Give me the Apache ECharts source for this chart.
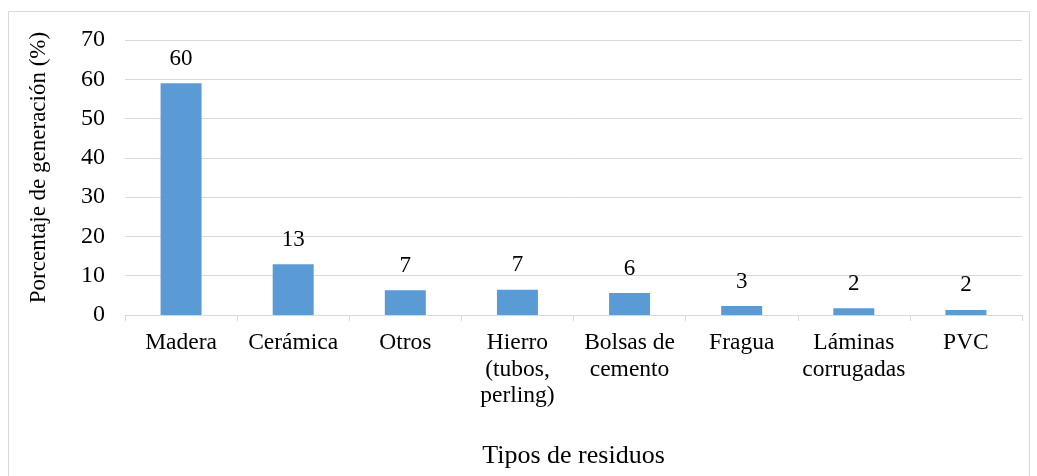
<!DOCTYPE html>
<html>
<head>
<meta charset="utf-8">
<script src="https://cdn.jsdelivr.net/npm/echarts@6/dist/echarts.min.js"></script>
<style>
  html, body { margin: 0; padding: 0; background: #fff; }
  #main { width: 1037px; height: 476px; }
</style>
</head>
<body>
<div id="main"></div>
<script>
// datos del gráfico
var categorias = ['Madera', 'Cerámica', 'Otros', 'Hierro\n(tubos,\nperling)', 'Bolsas de\ncemento', 'Fragua', 'Láminas\ncorrugadas', 'PVC'];
var valores = [59.0, 12.9, 6.3, 6.4, 5.6, 2.3, 1.7, 1.3];
var etiquetas = ['60', '13', '7', '7', '6', '3', '2', '2'];

var fuente = '"Liberation Serif", "Times New Roman", serif';
var myChart = echarts.init(document.getElementById('main'));

option = {
	backgroundColor: '#fff',
	textStyle: { fontFamily: fuente, color: '#000' },
	graphic: [{
		type: 'rect',
		shape: { x: 8.5, y: 11.5, width: 1021, height: 470 },
		style: { fill: 'none', stroke: '#d9d9d9', lineWidth: 1 },
		silent: true
	}],
	grid: { left: 125, right: 15, top: 40, bottom: 161 },
	xAxis: {
		type: 'category',
		data: categorias,
		name: 'Tipos de residuos',
		nameLocation: 'middle',
		nameGap: 128,
		nameTextStyle: { fontFamily: fuente, fontSize: 26, color: '#000' },
		axisLine: { lineStyle: { color: '#d9d9d9', width: 1 } },
		axisTick: { show: true, length: 6, lineStyle: { color: '#d9d9d9' } },
		axisLabel: {
			interval: 0,
			margin: 15,
			fontFamily: fuente,
			fontSize: 23.5,
			lineHeight: 26.5,
			color: '#000',
			align: 'center'
		}
	},
	yAxis: {
		type: 'value',
		min: 0,
		max: 70,
		interval: 10,
		name: 'Porcentaje de generación (%)',
		nameLocation: 'middle',
		nameGap: 75,
		nameTextStyle: { fontFamily: fuente, fontSize: 23, color: '#000', padding: [0, 0, 0, 20] },
		axisLine: { show: false },
		axisTick: { show: false },
		axisLabel: { fontFamily: fuente, fontSize: 24, color: '#000', margin: 20 },
		splitLine: { lineStyle: { color: '#d9d9d9', width: 1 } }
	},
	series: [{
		type: 'bar',
		data: valores,
		barWidth: 41,
		itemStyle: { color: '#5b9bd5' },
		label: {
			show: true,
			position: 'top',
			distance: 13,
			fontFamily: fuente,
			fontSize: 23,
			color: '#000',
			formatter: function (p) { return etiquetas[p.dataIndex]; }
		}
	}]
};
myChart.setOption(option);
window.onresize = myChart.resize;
</script>
</body>
</html>
